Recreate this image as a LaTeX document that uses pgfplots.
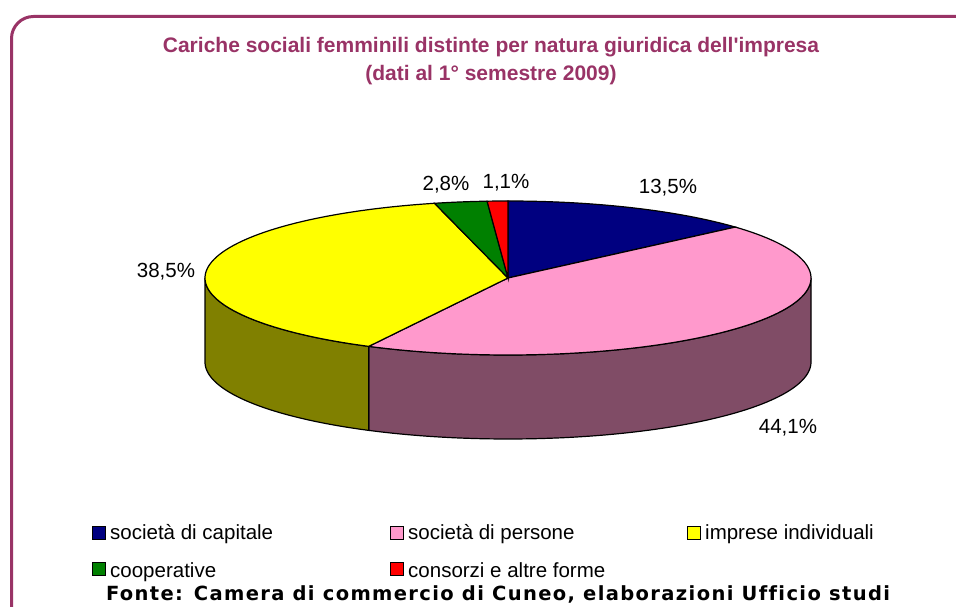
\documentclass[border=0pt]{standalone}
\usepackage{fontspec}
\setmainfont{Liberation Sans}
\newfontfamily\dvs[LetterSpace=7,Ligatures=NoCommon]{DejaVu Sans}
\usepackage{pgfplots}
\pgfplotsset{compat=1.18}
\usepgfplotslibrary{fillbetween}
\definecolor{cnavy}{HTML}{000080}
\definecolor{cpink}{HTML}{FF99CC}
\definecolor{cyellow}{HTML}{FFFF00}
\definecolor{cgreen}{HTML}{008000}
\definecolor{cred}{HTML}{FF0000}
\definecolor{cpinkside}{HTML}{804C66}
\definecolor{cyellowside}{HTML}{808000}
\definecolor{cframe}{HTML}{993366}
% geometry of the pie (pixel units)
\def\cx{508}\def\cy{278}\def\rx{303}\def\ry{77}\def\dep{84}
% data (percentages)
\def\vA{13.5}% societa di capitale
\def\vB{44.1}% societa di persone
\def\vC{38.5}% imprese individuali
\def\vD{2.8}% cooperative
\def\vE{1.1}% consorzi e altre forme
\pgfmathsetmacro{\aA}{90}
\pgfmathsetmacro{\aB}{\aA-3.6*\vA}
\pgfmathsetmacro{\aC}{\aB-3.6*\vB}
\pgfmathsetmacro{\aD}{\aC-3.6*\vC}
\pgfmathsetmacro{\aE}{\aD-3.6*\vD}
\pgfmathsetmacro{\aF}{\aE-3.6*\vE}
\newcommand{\fs}[1]{\fontsize{#1bp}{#1bp}\selectfont}
\begin{document}
\begin{tikzpicture}
\begin{axis}[width=956bp,height=607bp,scale only axis,
  xmin=0,xmax=956,ymin=0,ymax=607,y dir=reverse,hide axis,clip=false]
\coordinate (BL) at (axis cs:0,607);
\coordinate (TR) at (axis cs:956,0);
% frame
\draw[cframe,line width=3bp,rounded corners=22bp] (axis cs:11.5,16.5) rectangle (axis cs:1010,700);
% side walls
\addplot[name path=pt,draw=none,domain=\aC:0,samples=80] ({\cx+\rx*cos(x)},{\cy-\ry*sin(x)});
\addplot[name path=pb,draw=none,domain=\aC:0,samples=80] ({\cx+\rx*cos(x)},{\cy+\dep-\ry*sin(x)});
\addplot[fill=cpinkside,draw=black,line width=1.2bp] fill between[of=pt and pb];
\addplot[name path=yt,draw=none,domain=-180:\aC,samples=80] ({\cx+\rx*cos(x)},{\cy-\ry*sin(x)});
\addplot[name path=yb,draw=none,domain=-180:\aC,samples=80] ({\cx+\rx*cos(x)},{\cy+\dep-\ry*sin(x)});
\addplot[fill=cyellowside,draw=black,line width=1.2bp] fill between[of=yt and yb];
% top wedges
\addplot[fill=cnavy,draw=black,line width=1.2bp,domain=\aB:\aA,samples=60] ({\cx+\rx*cos(x)},{\cy-\ry*sin(x)}) -- (axis cs:\cx,\cy) -- cycle;
\addplot[fill=cpink,draw=black,line width=1.2bp,domain=\aC:\aB,samples=120] ({\cx+\rx*cos(x)},{\cy-\ry*sin(x)}) -- (axis cs:\cx,\cy) -- cycle;
\addplot[fill=cyellow,draw=black,line width=1.2bp,domain=\aD:\aC,samples=120] ({\cx+\rx*cos(x)},{\cy-\ry*sin(x)}) -- (axis cs:\cx,\cy) -- cycle;
\addplot[fill=cgreen,draw=black,line width=1.2bp,domain=\aE:\aD,samples=20] ({\cx+\rx*cos(x)},{\cy-\ry*sin(x)}) -- (axis cs:\cx,\cy) -- cycle;
\addplot[fill=cred,draw=black,line width=1.2bp,domain=\aF:\aE,samples=10] ({\cx+\rx*cos(x)},{\cy-\ry*sin(x)}) -- (axis cs:\cx,\cy) -- cycle;
% data labels
\node[inner sep=0,font=\fs{20.5}] at (axis cs:668,188) {13,5\%};
\node[inner sep=0,font=\fs{20.5}] at (axis cs:788,428) {44,1\%};
\node[inner sep=0,font=\fs{20.5}] at (axis cs:166,272) {38,5\%};
\node[inner sep=0,font=\fs{20.5}] at (axis cs:446,185) {2,8\%};
\node[inner sep=0,font=\fs{20.5}] at (axis cs:506,183) {1,1\%};
% title
\node[inner sep=0,anchor=base,text=cframe,font=\fs{21}\bfseries] at (axis cs:491,53) {Cariche sociali femminili distinte per natura giuridica dell\textquotesingle impresa};
\node[inner sep=0,anchor=base,text=cframe,font=\fs{21}\bfseries] at (axis cs:491,81) {(dati al 1° semestre 2009)};
% legend
\draw[fill=cnavy,line width=1bp] (axis cs:92.5,527) rectangle (axis cs:105.5,540);
\draw[fill=cpink,line width=1bp] (axis cs:390.5,527) rectangle (axis cs:403.5,540);
\draw[fill=cyellow,line width=1bp] (axis cs:687.5,527) rectangle (axis cs:700.5,540);
\draw[fill=cgreen,line width=1bp] (axis cs:92.5,563) rectangle (axis cs:105.5,576);
\draw[fill=cred,line width=1bp] (axis cs:390.5,563) rectangle (axis cs:403.5,576);
\node[inner sep=0,anchor=base west,font=\fs{20.5}] at (axis cs:110,540) {società di capitale};
\node[inner sep=0,anchor=base west,font=\fs{20.5}] at (axis cs:408,540) {società di persone};
\node[inner sep=0,anchor=base west,font=\fs{20.5}] at (axis cs:705,540) {imprese individuali};
\node[inner sep=0,anchor=base west,font=\fs{20.5}] at (axis cs:110,577) {cooperative};
\node[inner sep=0,anchor=base west,font=\fs{20.5}] at (axis cs:408,577) {consorzi e altre forme};
% source
\node[inner sep=0,anchor=base,font=\dvs\fs{19.5}\bfseries] at (axis cs:498,600) {Fonte: Camera di commercio di Cuneo, elaborazioni Ufficio studi};
\end{axis}
\pgfresetboundingbox
\path[use as bounding box] (BL) rectangle (TR);
\end{tikzpicture}
\end{document}
